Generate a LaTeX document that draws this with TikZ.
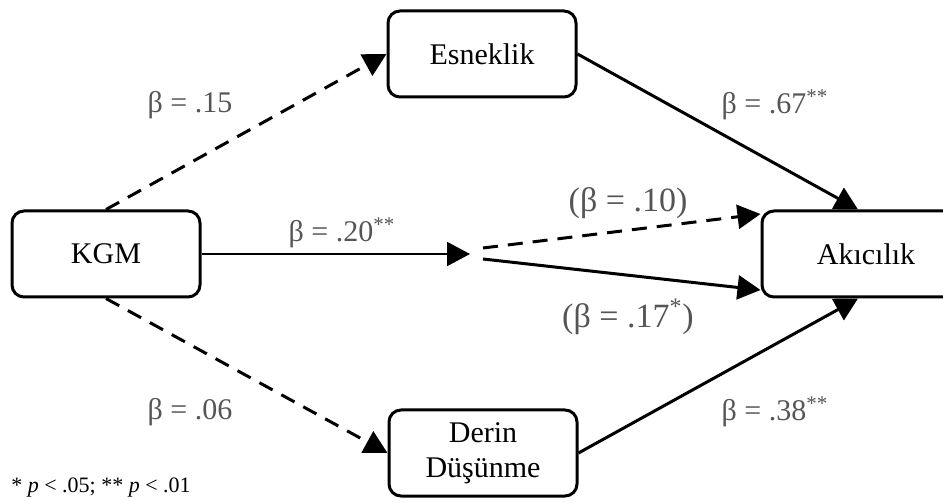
\documentclass[tikz,border=0pt]{standalone}
\usepackage{fontspec}
\setmainfont{Liberation Serif}
\usetikzlibrary{arrows.meta,positioning}
\definecolor{CoefGray}{HTML}{555555}

\begin{document}
\begin{tikzpicture}[
  x=0.5pt,y=-0.5pt,
  box/.style={draw,line width=1.5pt,rounded corners=6pt,minimum width=94pt,
    minimum height=43pt,align=center,font=\fontsize{15}{17.5}\selectfont},
  sig/.style={-{Triangle[length=11.5pt,width=12pt]},line width=1.5pt},
  nsig/.style={sig,dash pattern=on 7.5pt off 5pt},
  coef/.style={text=CoefGray,font=\fontsize{15}{18}\selectfont},
  coefbig/.style={text=CoefGray,font=\fontsize{17}{20}\selectfont}
]
  \useasboundingbox (0,0) rectangle (943,502);

  % variables
  \node[box] (kgm) at (106,254) {KGM};
  \node[box] (esn) at (482,54) {Esneklik};
  \node[box] (der) at (483,453) {Derin\\Düşünme};
  \node[box,minimum width=104pt] (akc) at (866,254) {Akıcılık};
  \coordinate (fork) at (470,254);

  % paths
  \draw[nsig] (kgm.north) -- (esn.west);
  \draw[sig] (esn.east) -- ([xshift=-4pt]akc.north);
  \draw[nsig] (kgm.south) -- (der.west);
  \draw[sig] (der.east) -- ([xshift=-4pt]akc.south);
  \draw[sig,line width=1pt] (kgm.east) -- (fork);
  \draw[nsig] ([shift={(13,-6)}]fork) -- ([yshift=20pt]akc.west);
  \draw[sig] ([shift={(13,5)}]fork) -- ([yshift=-18pt]akc.west);

  % coefficients
  \node[coef] (b15) at (190,105) {β = .15};
  \node[coef] (b67) at (775,105) {β = .67\textsuperscript{**}};
  \node[coef] (b06) at (190,412) {β = .06};
  \node[coef] (b38) at (775,412) {β = .38\textsuperscript{**}};
  \node[coef] (b20) at (342,233) {β = .20\textsuperscript{**}};
  \node[coefbig] (b10) at (628,203) {(β = .10)};
  \node[coefbig] (b17) at (628,317) {(β = .17\textsuperscript{*})};

  \node[font=\fontsize{11}{13}\selectfont] (note) at (101,488)
    {* \textit{p} < .05; ** \textit{p} < .01};
\end{tikzpicture}
\end{document}
